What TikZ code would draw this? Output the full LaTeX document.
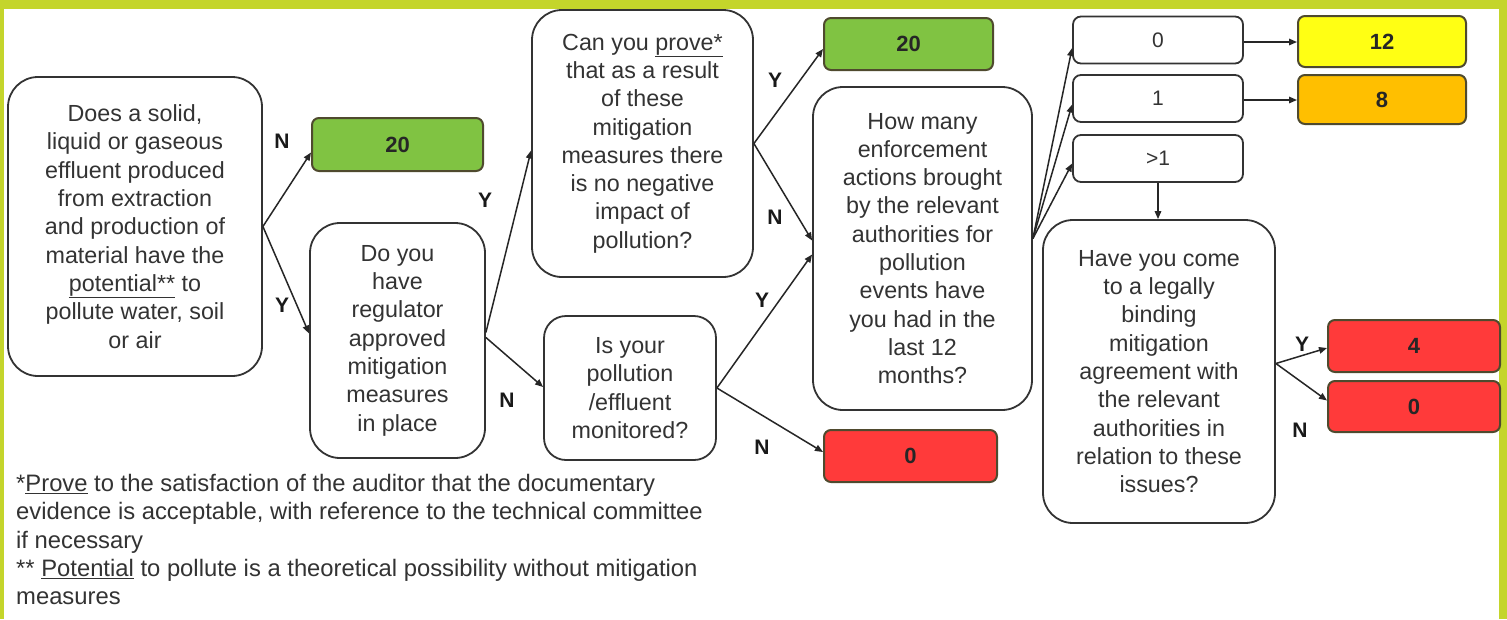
\documentclass[tikz,border=0pt]{standalone}
\usepackage{fontspec}
\setmainfont{Liberation Sans}
\usetikzlibrary{arrows.meta}
\definecolor{limeframe}{HTML}{C4D52B}
\definecolor{gbox}{HTML}{80C342}
\definecolor{ybox}{HTML}{FFFF14}
\definecolor{obox}{HTML}{FFBF00}
\definecolor{rbox}{HTML}{FF3A3A}
\definecolor{cedge}{HTML}{4F4A2E}
\definecolor{ink}{HTML}{333333}
\begin{document}
\begin{tikzpicture}[x=1pt,y=-1pt,
  qbox/.style={draw=ink, line width=1.8pt, rounded corners=30pt, fill=white, align=center, inner sep=0pt, text=ink, font=\fontsize{23.3}{28.3}\selectfont},
  wbox/.style={draw=ink, line width=1.8pt, rounded corners=8pt, fill=white, inner sep=0pt, text=ink, font=\fontsize{21}{25}\selectfont, minimum width=170pt, minimum height=47pt},
  cbox/.style={draw=cedge, line width=2pt, rounded corners=7pt, fill=#1, inner sep=0pt, text=black!85, font=\fontsize{22}{26}\selectfont\bfseries},
  lab/.style={font=\fontsize{21}{25}\selectfont\bfseries, text=black!90, inner sep=0pt},
  arr/.style={draw=black!85, line width=1.5pt, -{Triangle[length=8pt,width=6.5pt]}},
  note/.style={font=\fontsize{23.8}{28.3}\selectfont, text=ink, align=left, inner sep=0pt}
]
\useasboundingbox (0,0) rectangle (1507,619);
\fill[limeframe] (0,0) rectangle (1507,619);
\fill[white] (4,9) rectangle (1499,619);

% questions
\node[qbox, minimum width=254pt, minimum height=299pt] (q1) at (135,226.5)
  {Does a solid,\\ liquid or gaseous\\ effluent produced\\ from extraction\\ and production of\\ material have the\\ \underline{potential**} to\\ pollute water, soil\\ or air};
\node[qbox, minimum width=175pt, minimum height=235pt] (q2) at (397.5,340.5)
  {Do you\\ have\\ regulator\\ approved\\ mitigation\\ measures\\ in place};
\node[qbox, minimum width=221pt, minimum height=267pt] (q3) at (642.5,143.5)
  {Can you \underline{prove*}\\ that as a result\\ of these\\ mitigation\\ measures there\\ is no negative\\ impact of\\ pollution?};
\node[qbox, rounded corners=22pt, minimum width=172pt, minimum height=144pt] (q4) at (630,388)
  {Is your\\ pollution\\ /effluent\\ monitored?};
\node[qbox, minimum width=219pt, minimum height=323pt] (q5) at (922.5,248.5)
  {How many\\ enforcement\\ actions brought\\ by the relevant\\ authorities for\\ pollution\\ events have\\ you had in the\\ last 12\\ months?};
\node[qbox, minimum width=232pt, minimum height=303pt] (q6) at (1159,371.5)
  {Have you come\\ to a legally\\ binding\\ mitigation\\ agreement with\\ the relevant\\ authorities in\\ relation to these\\ issues?};

% outcome boxes
\node[cbox=gbox, minimum width=171pt, minimum height=53pt] (g1) at (397.5,144.5) {20};
\node[cbox=gbox, minimum width=169pt, minimum height=52pt] (g2) at (908.5,44) {20};
\node[cbox=rbox, minimum width=173pt, minimum height=52pt] (r1) at (910.5,456) {0};
\node[cbox=ybox, minimum width=168pt, minimum height=51pt] (y12) at (1382,41.5) {12};
\node[cbox=obox, minimum width=168pt, minimum height=49pt] (o8) at (1382,99.5) {8};
\node[cbox=rbox, minimum width=172pt, minimum height=52pt] (r4) at (1414,346) {4};
\node[cbox=rbox, minimum width=172pt, minimum height=51pt] (r0) at (1414,406.5) {0};

% count boxes
\node[wbox] (b0) at (1158,40) {0};
\node[wbox] (b1) at (1158,98.5) {1};
\node[wbox] (b2) at (1158,158.5) {>1};

% connectors
\draw[arr] (q1.east) -- ([yshift=-8pt]g1.west);
\draw[arr] (q1.east) -- ([yshift=7pt]q2.west);
\draw[arr] ([yshift=8pt]q2.east) -- ([yshift=-7pt]q3.west);
\draw[arr] ([yshift=3pt]q2.east) -- ([yshift=1pt]q4.west);
\draw[arr] (q3.east) -- ([yshift=-5pt]g2.west);
\draw[arr] (q3.east) -- ([yshift=8pt]q5.west);
\draw[arr] (q4.east) -- ([yshift=-6pt]q5.west);
\draw[arr] (q4.east) -- ([yshift=4pt]r1.west);
\coordinate (f5) at ([yshift=10pt]q5.east);
\draw[arr] (f5) -- ([yshift=-8pt]b0.west);
\draw[arr] (f5) -- ([yshift=-6pt]b1.west);
\draw[arr] (f5) -- ([yshift=-5pt]b2.west);
\draw[arr] ([yshift=-2pt]b0.east) -- ([yshift=-2pt]b0.east -| y12.west);
\draw[arr] ([yshift=-1.5pt]b1.east) -- ([yshift=-1.5pt]b1.east -| o8.west);
\draw[arr] (b2.south) -- (b2.south |- q6.north);
\coordinate (f6) at ([yshift=8pt]q6.east);
\draw[arr] (f6) -- ([yshift=-2pt]r4.west);
\draw[arr] (f6) -- ([yshift=6pt]r0.west);

% labels
\node[lab] (l1) at (282,141) {N};
\node[lab] (l2) at (282,305) {Y};
\node[lab] (l3) at (485,200) {Y};
\node[lab] (l4) at (507,400) {N};
\node[lab] (l5) at (775,80) {Y};
\node[lab] (l6) at (775,217) {N};
\node[lab] (l7) at (762,300) {Y};
\node[lab] (l8) at (762,447) {N};
\node[lab] (l9) at (1302,344) {Y};
\node[lab] (l10) at (1300,430) {N};

% footnotes
\node[note, anchor=north west] (fn) at (16,474)
  {*\underline{Prove} to the satisfaction of the auditor that the documentary\\
   evidence is acceptable, with reference to the technical committee\\
   if necessary\\
   ** \underline{Potential} to pollute is a theoretical possibility without mitigation\\
   measures};
\end{tikzpicture}
\end{document}
